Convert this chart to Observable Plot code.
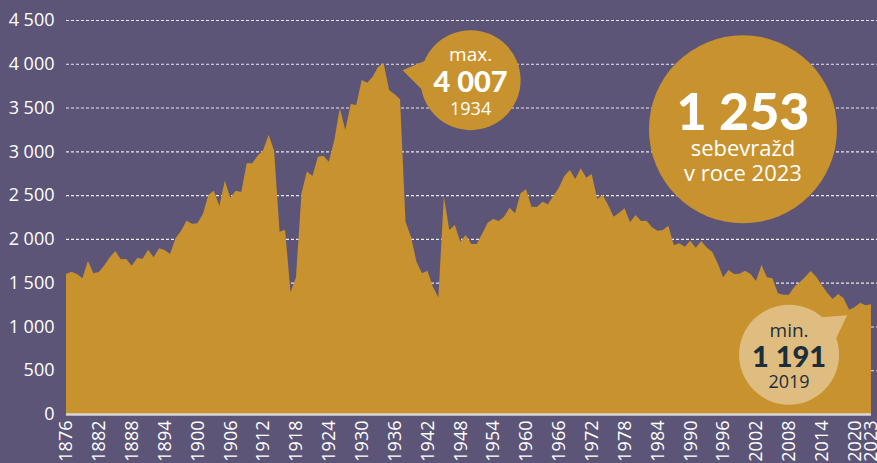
<!DOCTYPE html>
<html><head><meta charset="utf-8">
<script src="https://cdn.jsdelivr.net/npm/d3@7"></script>
<script src="https://cdn.jsdelivr.net/npm/@observablehq/plot@0.6"></script>
<style>
html,body{margin:0;padding:0;background:#5c5577;overflow:hidden}
#chart svg{display:block}
</style></head><body><div id="chart"></div>
<script>
const firstYear = 1876;
const suicides = [
  1600,1625,1600,1550,1747,1607,1622,1700,1789,1861, // 1876-1885
  1767,1770,1694,1781,1774,1876,1789,1892,1873,1827, // 1886-1895
  2006,2090,2208,2173,2178,2285,2500,2550,2375,2664, // 1896-1905
  2470,2550,2535,2863,2863,2950,3011,3190,3007,2082, // 1906-1915
  2105,1390,1561,2520,2771,2718,2938,2950,2881,3129, // 1916-1925
  3491,3243,3540,3529,3814,3784,3852,3966,4007,3700, // 1926-1935
  3651,3594,2196,2025,1739,1607,1637,1454,1332,2482, // 1936-1945
  2101,2158,1968,2044,1941,1941,2060,2185,2227,2204, // 1946-1955
  2253,2356,2292,2520,2566,2367,2364,2425,2395,2490, // 1956-1965
  2584,2718,2786,2684,2806,2699,2741,2455,2501,2387, // 1966-1975
  2253,2299,2349,2190,2272,2204,2208,2132,2093,2101, // 1976-1985
  2150,1926,1949,1911,1979,1899,1976,1903,1853,1721, // 1986-1995
  1561,1644,1599,1603,1637,1599,1519,1701,1561,1550, // 1996-2005
  1378,1362,1362,1454,1504,1568,1633,1568,1473,1386, // 2006-2015
  1313,1370,1321,1191,1218,1271,1241,1253            // 2016-2023
];
const years = suicides.map((_, i) => firstYear + i);
const xTickLabels = [1876,1882,1888,1894,1900,1906,1912,1918,1924,1930,1936,1942,1948,1954,1960,1966,1972,1978,1984,1990,1996,2002,2008,2014,2020,2023];
const yTicks = [0,500,1000,1500,2000,2500,3000,3500,4000,4500];
const maxPoint = {year: 1934, value: 4007, label: "max.", valueText: "4 007"};
const minPoint = {year: 2019, value: 1191, label: "min.", valueText: "1 191"};
const lastPoint = {year: 2023, value: 1253, valueText: "1 253", line1: "sebevražd", line2: "v roce 2023"};

const data = years.map((year, i) => ({year, value: suicides[i]}));

const BG = "#5c5577";
const GOLD = "#c8932e";
const LIGHT = "#dfbd80";
const DARK = "#1c2e3a";
const SANS = "'Open Sans', 'Noto Sans', sans-serif";
const BOLD = "Lato, 'Open Sans', sans-serif";

const fmt = d => d >= 1000 ? `${Math.floor(d / 1000)} ${String(d % 1000).padStart(3, "0")}` : `${d}`;

function annotations(index, scales) {
  const {x, y} = scales;
  const g = d3.create("svg:g");
  const txt = (tx, ty, s, size, weight, fill, family) =>
    g.append("text").attr("x", tx).attr("y", ty).attr("text-anchor", "middle")
      .attr("font-size", size).attr("font-weight", weight).attr("fill", fill)
      .attr("font-family", family).text(s);

  // max bubble
  {
    const px = x(maxPoint.year), py = y(maxPoint.value);
    const cx = px + 87, cy = py + 17;
    g.append("path").attr("d", `M${px + 19},${py + 7}L${cx - 42},${cy - 21}L${cx - 48},${cy + 10}Z`).attr("fill", GOLD);
    g.append("circle").attr("cx", cx).attr("cy", cy).attr("r", 50).attr("fill", GOLD);
    txt(cx, cy - 19, maxPoint.label, 19, 400, "#fff", SANS);
    txt(cx, cy + 12, maxPoint.valueText, 29, 900, "#fff", BOLD);
    txt(cx, cy + 35, String(maxPoint.year), 18, 400, "#fff", SANS);
  }
  // big total bubble
  {
    const px = x(lastPoint.year), py = y(lastPoint.value);
    const cx = px - 128, cy = py - 175;
    g.append("circle").attr("cx", cx).attr("cy", cy).attr("r", 94).attr("fill", GOLD);
    txt(cx, cy + 1, lastPoint.valueText, 52, 900, "#fff", BOLD);
    txt(cx, cy + 27, lastPoint.line1, 22, 400, "#fff", SANS);
    txt(cx, cy + 52, lastPoint.line2, 22, 400, "#fff", SANS);
  }
  // min bubble
  {
    const px = x(minPoint.year), py = y(minPoint.value);
    const cx = px - 60, cy = py + 45;
    g.append("path").attr("d", `M${cx + 26},${cy - 37}L${cx + 58},${cy - 39.5}L${cx + 44},${cy - 10}Z`).attr("fill", LIGHT);
    g.append("circle").attr("cx", cx).attr("cy", cy).attr("r", 50).attr("fill", LIGHT);
    txt(cx, cy - 18, minPoint.label, 19, 400, DARK, SANS);
    txt(cx, cy + 12, minPoint.valueText, 29, 900, DARK, BOLD);
    txt(cx, cy + 33, String(minPoint.year), 18, 400, DARK, SANS);
  }
  return g.node();
}

const chart = Plot.plot({
  width: 877,
  height: 463,
  marginLeft: 66,
  marginRight: 0,
  marginTop: 20,
  marginBottom: 49,
  style: {background: BG, color: "#fff", fontFamily: SANS},
  x: {type: "linear", domain: [1876, 2024.1], label: null},
  y: {domain: [0, 4500], label: null},
  marks: [
    Plot.ruleY(yTicks.filter(d => d > 0), {stroke: "#ece8ee", strokeDasharray: "3,2", strokeWidth: 1.1}),
    Plot.areaY(data, {x: "year", y: "value", fill: GOLD, curve: "linear"}),
    Plot.ruleY([0], {x1: 1876, x2: 2023, stroke: "#d9d4d6", strokeWidth: 2.5}),
    Plot.axisY(yTicks, {tickSize: 0, tickPadding: 12, tickFormat: fmt, fontSize: 18, fill: "#fff", label: null}),
    Plot.axisX(xTickLabels, {tickSize: 0, tickPadding: 6, tickRotate: -90, tickFormat: d => `${d}`, fontSize: 18, fill: "#fff", label: null}),
    annotations
  ]
});
document.getElementById("chart").append(chart);
</script></body></html>
